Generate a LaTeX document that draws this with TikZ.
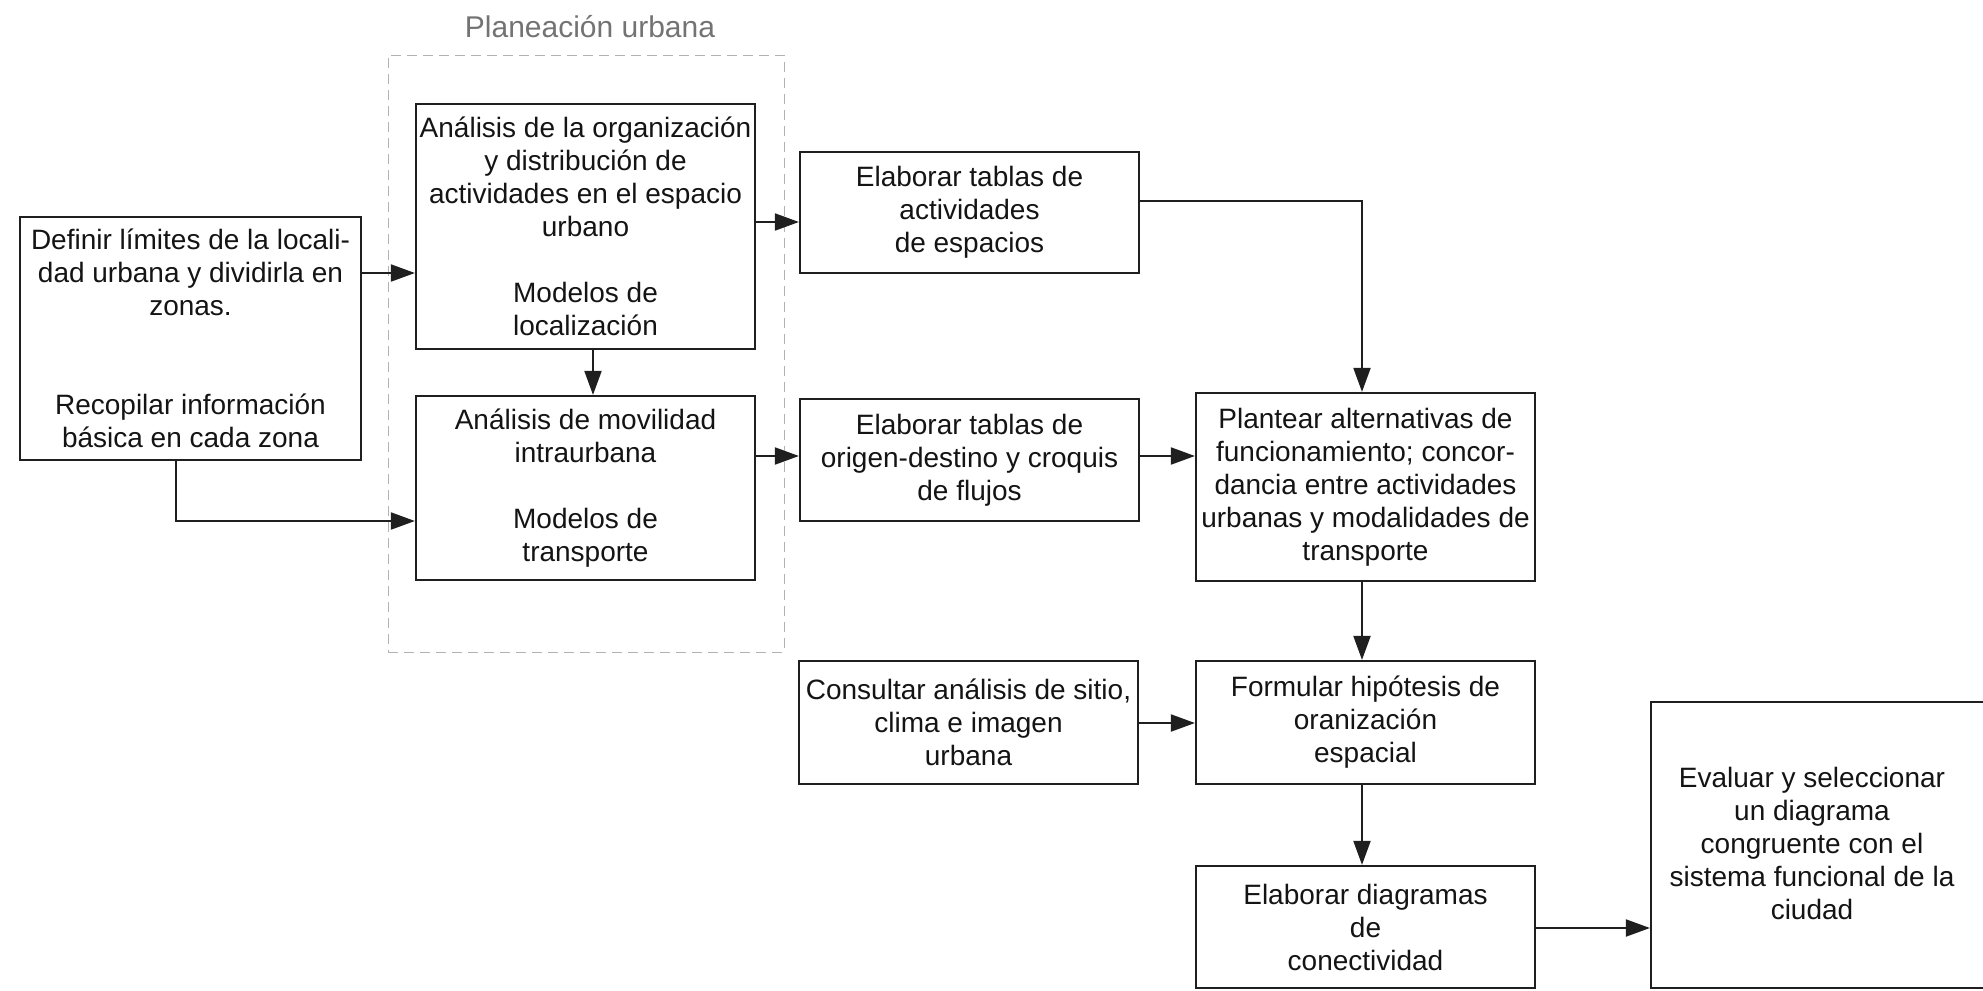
\documentclass[tikz,border=0pt]{standalone}
\usepackage{fontspec}
\setmainfont{Liberation Sans}
\usetikzlibrary{arrows.meta}
\begin{document}
\begin{tikzpicture}[x=0.5pt,y=-0.5pt,
  box/.style={draw=black!88, line width=1.1pt, fill=white, inner sep=1pt,
    align=center, font=\fontsize{14}{16.5}\selectfont, text=black!92},
  txt/.style={inner sep=0pt, align=center, font=\fontsize{14}{16.5}\selectfont, text=black!92},
  flow/.style={draw=black!88, line width=1pt, -{Triangle[length=12pt,width=8.5pt]}},
  group/.style={draw=black!30, line width=0.5pt, dash pattern=on 5pt off 3pt, inner sep=0pt},
  title/.style={inner sep=0pt, text=black!55, font=\fontsize{15}{18}\selectfont},
]
\useasboundingbox (0,0) rectangle (1983,991);
\clip (0,0) rectangle (1983,991);

% urban planning group frame and its caption
\node[group, minimum width=198pt, minimum height=298.5pt] (grp) at (586,353.5) {};
\node[title] (grptitle) at (590,27) {Planeación urbana};

% process boxes
\node[box, minimum width=170.5pt, minimum height=121.5pt] (A) at (190.5,338.5)
  {Definir límites de la locali-\\dad urbana y dividirla en\\zonas.\\[16.5pt]\mbox{}\\Recopilar información\\básica en cada zona};
\node[box, minimum width=169.5pt, minimum height=122.5pt] (B) at (585.5,226.5)
  {Análisis de la organización\\y distribución de\\actividades en el espacio\\urbano\\\mbox{}\\Modelos de\\localización};
\node[box, minimum width=169.5pt, minimum height=92pt] (C) at (585.5,488)
  {Análisis de movilidad\\intraurbana\\\mbox{}\\Modelos de\\transporte};
\node[box, minimum width=169.5pt, minimum height=60.5pt] (D) at (969.5,212.5)
  {Elaborar tablas de\\actividades\\de espacios};
\node[box, minimum width=169.5pt, minimum height=61pt] (E) at (969.5,460)
  {Elaborar tablas de\\origen-destino y croquis\\de flujos};
\node[box, minimum width=169.5pt, minimum height=94pt] (F) at (1365.5,487)
  {Plantear alternativas de\\funcionamiento; concor-\\dancia entre actividades\\urbanas y modalidades de\\transporte};
\node[box, minimum width=169.5pt, minimum height=61.5pt] (G) at (968.5,722.5)
  {Consultar análisis de sitio,\\clima e imagen\\urbana};
\node[box, minimum width=169.5pt, minimum height=61.5pt] (H) at (1365.5,722.5)
  {Formular hipótesis de\\oranización\\espacial};
\node[box, minimum width=169.5pt, minimum height=61pt] (I) at (1365.5,927)
  {Elaborar diagramas\\de\\conectividad};
\node[box, minimum width=172pt, minimum height=143pt] (J) at (1823,845) {};
\node[txt] (Jtext) at (1812,843)
  {Evaluar y seleccionar\\un diagrama\\congruente con el\\sistema funcional de la\\ciudad};

% routing points for the connectors
\coordinate (yAB) at (0,273);
\coordinate (pAC) at (176,521);
\coordinate (xBC) at (593,0);
\coordinate (yBD) at (0,222);
\coordinate (yCEF) at (0,456);
\coordinate (pDF) at (1362,201);
\coordinate (xFHI) at (1362,0);
\coordinate (yGH) at (0,723);
\coordinate (yIJ) at (0,928);

% connectors
\draw[flow] (A.east |- yAB) -- (B.west |- yAB);
\draw[flow] (A.south -| pAC) |- (C.west |- pAC);
\draw[flow] (B.south -| xBC) -- (C.north -| xBC);
\draw[flow] (B.east |- yBD) -- (D.west |- yBD);
\draw[flow] (C.east |- yCEF) -- (E.west |- yCEF);
\draw[flow] (E.east |- yCEF) -- (F.west |- yCEF);
\draw[flow] (D.east |- pDF) -| (F.north -| pDF);
\draw[flow] (F.south -| xFHI) -- (H.north -| xFHI);
\draw[flow] (G.east |- yGH) -- (H.west |- yGH);
\draw[flow] (H.south -| xFHI) -- (I.north -| xFHI);
\draw[flow] (I.east |- yIJ) -- (J.west |- yIJ);
\end{tikzpicture}
\end{document}
